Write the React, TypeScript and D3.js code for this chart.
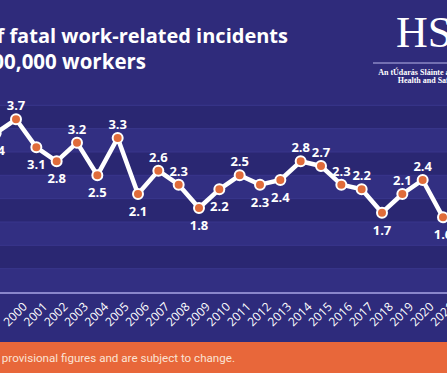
import React from "react";
import * as d3 from "d3";

const years = [1999, 2000, 2001, 2002, 2003, 2004, 2005, 2006, 2007, 2008, 2009, 2010, 2011, 2012, 2013, 2014, 2015, 2016, 2017, 2018, 2019, 2020, 2021];
const rates = [3.4, 3.7, 3.1, 2.8, 3.2, 2.5, 3.3, 2.1, 2.6, 2.3, 1.8, 2.2, 2.5, 2.3, 2.4, 2.8, 2.7, 2.3, 2.2, 1.7, 2.1, 2.4, 1.6];
const labelSide = ["below", "above", "below", "below", "above", "below", "above", "below", "above", "above", "below", "below", "above", "below", "below", "above", "above", "above", "above", "below", "above", "above", "below"];
const tickYears = [2000, 2001, 2002, 2003, 2004, 2005, 2006, 2007, 2008, 2009, 2010, 2011, 2012, 2013, 2014, 2015, 2016, 2017, 2018, 2019, 2020, 2021];
const bandEdges = [0, 0.5, 1, 1.5, 2, 2.5, 3, 3.5, 4];
const titleLines = ["Rate of fatal work-related incidents", "per 100,000 workers"];
const footnote = "*2021 figures are provisional figures and are subject to change.";

const W = 447;
const H = 373;
const BG = "#2f2b7b";
const BAND_DARK = "#2a2772";
const BAND_LIGHT = "#322f82";
const ORANGE = "#e8673a";
const FONT = "'Open Sans', 'Noto Sans', sans-serif";

export default function App() {
  const x = d3.scaleLinear().domain([2000, 2021]).range([16, 443]);
  const y = d3.scaleLinear().domain([0, 4]).range([292, 105.3]);
  const line = d3
    .line<number>()
    .x((_, i) => x(years[i]))
    .y((d) => y(d));

  return (
    <svg
      width={W}
      height={H}
      style={{ position: "absolute", left: 0, top: 0, display: "block" }}
      fontFamily={FONT}
    >
      <rect x={0} y={0} width={W} height={H} fill={BG} />
      {bandEdges.slice(0, -1).map((b, i) => (
        <rect
          key={"band" + i}
          x={0}
          width={W}
          y={y(bandEdges[i + 1])}
          height={y(b) - y(bandEdges[i + 1])}
          fill={i % 2 === 0 ? BAND_LIGHT : BAND_DARK}
        />
      ))}
      {bandEdges.slice(1).map((b, i) => (
        <line key={"grid" + i} x1={0} x2={W} y1={y(b)} y2={y(b)} stroke="#3a378c" strokeWidth={1} />
      ))}
      <rect x={0} y={y(0)} width={W} height={342 - y(0)} fill="#2e2b7c" />
      <line x1={0} x2={W} y1={y(0) + 1} y2={y(0) + 1} stroke="#a9a6e6" strokeWidth={1.5} />

      {/* x-axis labels */}
      {tickYears.map((yr) => (
        <text
          key={"xl" + yr}
          transform={`translate(${x(yr) - 1},${314}) rotate(-45)`}
          textAnchor="middle"
          dominantBaseline="central"
          fill="#ffffff"
          fontSize={12}
        >
          {yr}
        </text>
      ))}

      {/* line */}
      <path d={line(rates) || ""} fill="none" stroke="#ffffff" strokeWidth={4.5} strokeLinejoin="round" />
      {rates.map((v, i) => (
        <circle key={"pt" + i} cx={x(years[i])} cy={y(v)} r={5} fill="#e06c3a" stroke="#ffffff" strokeWidth={2} />
      ))}
      {rates.map((v, i) => (
        <text
          key={"vl" + i}
          x={x(years[i])}
          y={y(v) + (labelSide[i] === "above" ? -14 : 17)}
          textAnchor="middle"
          dominantBaseline="central"
          fill="#ffffff"
          fontSize={13}
          fontWeight={700}
        >
          {v.toFixed(1)}
        </text>
      ))}

      {/* title */}
      <text x={288} y={43} textAnchor="end" fill="#ffffff" fontSize={20} fontWeight={700}>
        {titleLines[0]}
      </text>
      <text x={146} y={69} textAnchor="end" fill="#ffffff" fontSize={20.5} fontWeight={700}>
        {titleLines[1]}
      </text>

      {/* logo */}
      <text x={396} y={47} fill="#ffffff" fontSize={44} fontFamily="'Liberation Serif', 'DejaVu Serif', serif">
        HSA
      </text>
      <line x1={373} x2={W} y1={63} y2={63} stroke="#b9b6ea" strokeWidth={1} />
      <text x={446} y={75} textAnchor="middle" fill="#ffffff" fontSize={8} fontWeight={700} fontFamily="'Liberation Serif', serif">
        An tÚdarás Sláinte agus Sábháilteachta
      </text>
      <text x={446} y={83} textAnchor="middle" fill="#ffffff" fontSize={8} fontWeight={700} fontFamily="'Liberation Serif', serif">
        Health and Safety Authority
      </text>

      {/* footer */}
      <rect x={0} y={342} width={W} height={H - 342} fill={ORANGE} />
      <text x={235} y={361.5} textAnchor="end" fill="#fbe3d4" fontSize={11.6} fontFamily="Roboto, sans-serif">
        {footnote}
      </text>
    </svg>
  );
}
